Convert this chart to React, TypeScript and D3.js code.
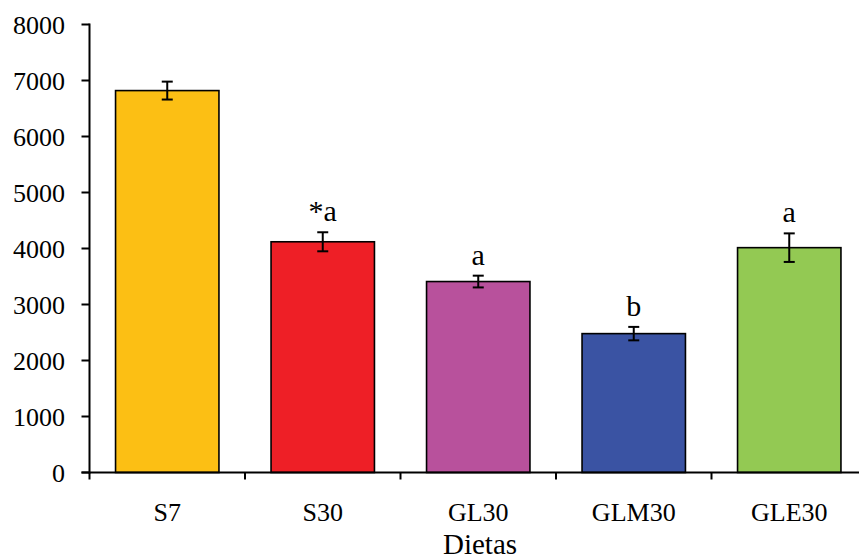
import React from "react";
import * as d3 from "d3";

// Diet groups, mean values, error (±) and significance letters
const categories = ["S7", "S30", "GL30", "GLM30", "GLE30"];
const means = [6820, 4120, 3410, 2480, 4015];
const errors = [160, 170, 105, 120, 255];
const letters = ["", "*a", "a", "b", "a"];
const barColors = ["#FCBF14", "#EE1F26", "#B8519C", "#3A53A3", "#93C953"];
const yTicks = [0, 1000, 2000, 3000, 4000, 5000, 6000, 7000, 8000];

const W = 859;
const H = 560;
const left = 89.5;
const bandStep = 155.5;
const y0 = 472.5;
const yTop = 24.5;
const FONT = "'Liberation Serif', 'Times New Roman', serif";

export default function App() {
  const x = d3
    .scaleBand<string>()
    .domain(categories)
    .range([left, left + bandStep * categories.length])
    .paddingInner(0.335)
    .paddingOuter(0.1675);
  const y = d3.scaleLinear().domain([0, 8000]).range([y0, yTop]);
  const cap = 5.5;

  return (
    <svg
      width={W}
      height={H}
      style={{ position: "absolute", left: 0, top: 0, background: "#fff" }}
      fontFamily={FONT}
    >
      {/* bars */}
      {categories.map((c, i) => (
        <rect
          key={c}
          x={x(c)!}
          y={y(means[i])}
          width={x.bandwidth()}
          height={y(0) - y(means[i])}
          fill={barColors[i]}
          stroke="#000"
          strokeWidth={1.6}
        />
      ))}

      {/* error bars */}
      {categories.map((c, i) => {
        const cx = x(c)! + x.bandwidth() / 2;
        const hi = y(means[i] + errors[i]);
        const lo = y(means[i] - errors[i]);
        return (
          <g key={"e" + c} stroke="#000" strokeWidth={2}>
            <line x1={cx} x2={cx} y1={hi} y2={lo} />
            <line x1={cx - cap} x2={cx + cap} y1={hi} y2={hi} />
            <line x1={cx - cap} x2={cx + cap} y1={lo} y2={lo} />
          </g>
        );
      })}

      {/* significance letters */}
      {categories.map((c, i) =>
        letters[i] ? (
          <text
            key={"l" + c}
            x={x(c)! + x.bandwidth() / 2}
            y={y(means[i] + errors[i]) - 11}
            textAnchor="middle"
            fontSize={30}
            fill="#000"
          >
            {letters[i]}
          </text>
        ) : null
      )}

      {/* y axis */}
      <line x1={left} x2={left} y1={yTop - 1} y2={y0 + 1} stroke="#000" strokeWidth={2} />
      {yTicks.map((t) => (
        <g key={"y" + t}>
          <line x1={left - 8} x2={left} y1={y(t)} y2={y(t)} stroke="#000" strokeWidth={2} />
          <text x={65} y={y(t) + 9} textAnchor="end" fontSize={26} fill="#000">
            {t}
          </text>
        </g>
      ))}

      {/* x axis */}
      <line x1={left - 8} x2={left + bandStep * categories.length} y1={y0} y2={y0} stroke="#000" strokeWidth={2} />
      {d3.range(categories.length + 1).map((k) => (
        <line
          key={"xt" + k}
          x1={left + k * bandStep}
          x2={left + k * bandStep}
          y1={y0}
          y2={y0 + 7}
          stroke="#000"
          strokeWidth={2}
        />
      ))}
      {categories.map((c) => (
        <text
          key={"xl" + c}
          x={x(c)! + x.bandwidth() / 2}
          y={521}
          textAnchor="middle"
          fontSize={26}
          fill="#000"
        >
          {c}
        </text>
      ))}
      <text x={480} y={553.5} textAnchor="middle" fontSize={29} fill="#000">
        Dietas
      </text>
    </svg>
  );
}
